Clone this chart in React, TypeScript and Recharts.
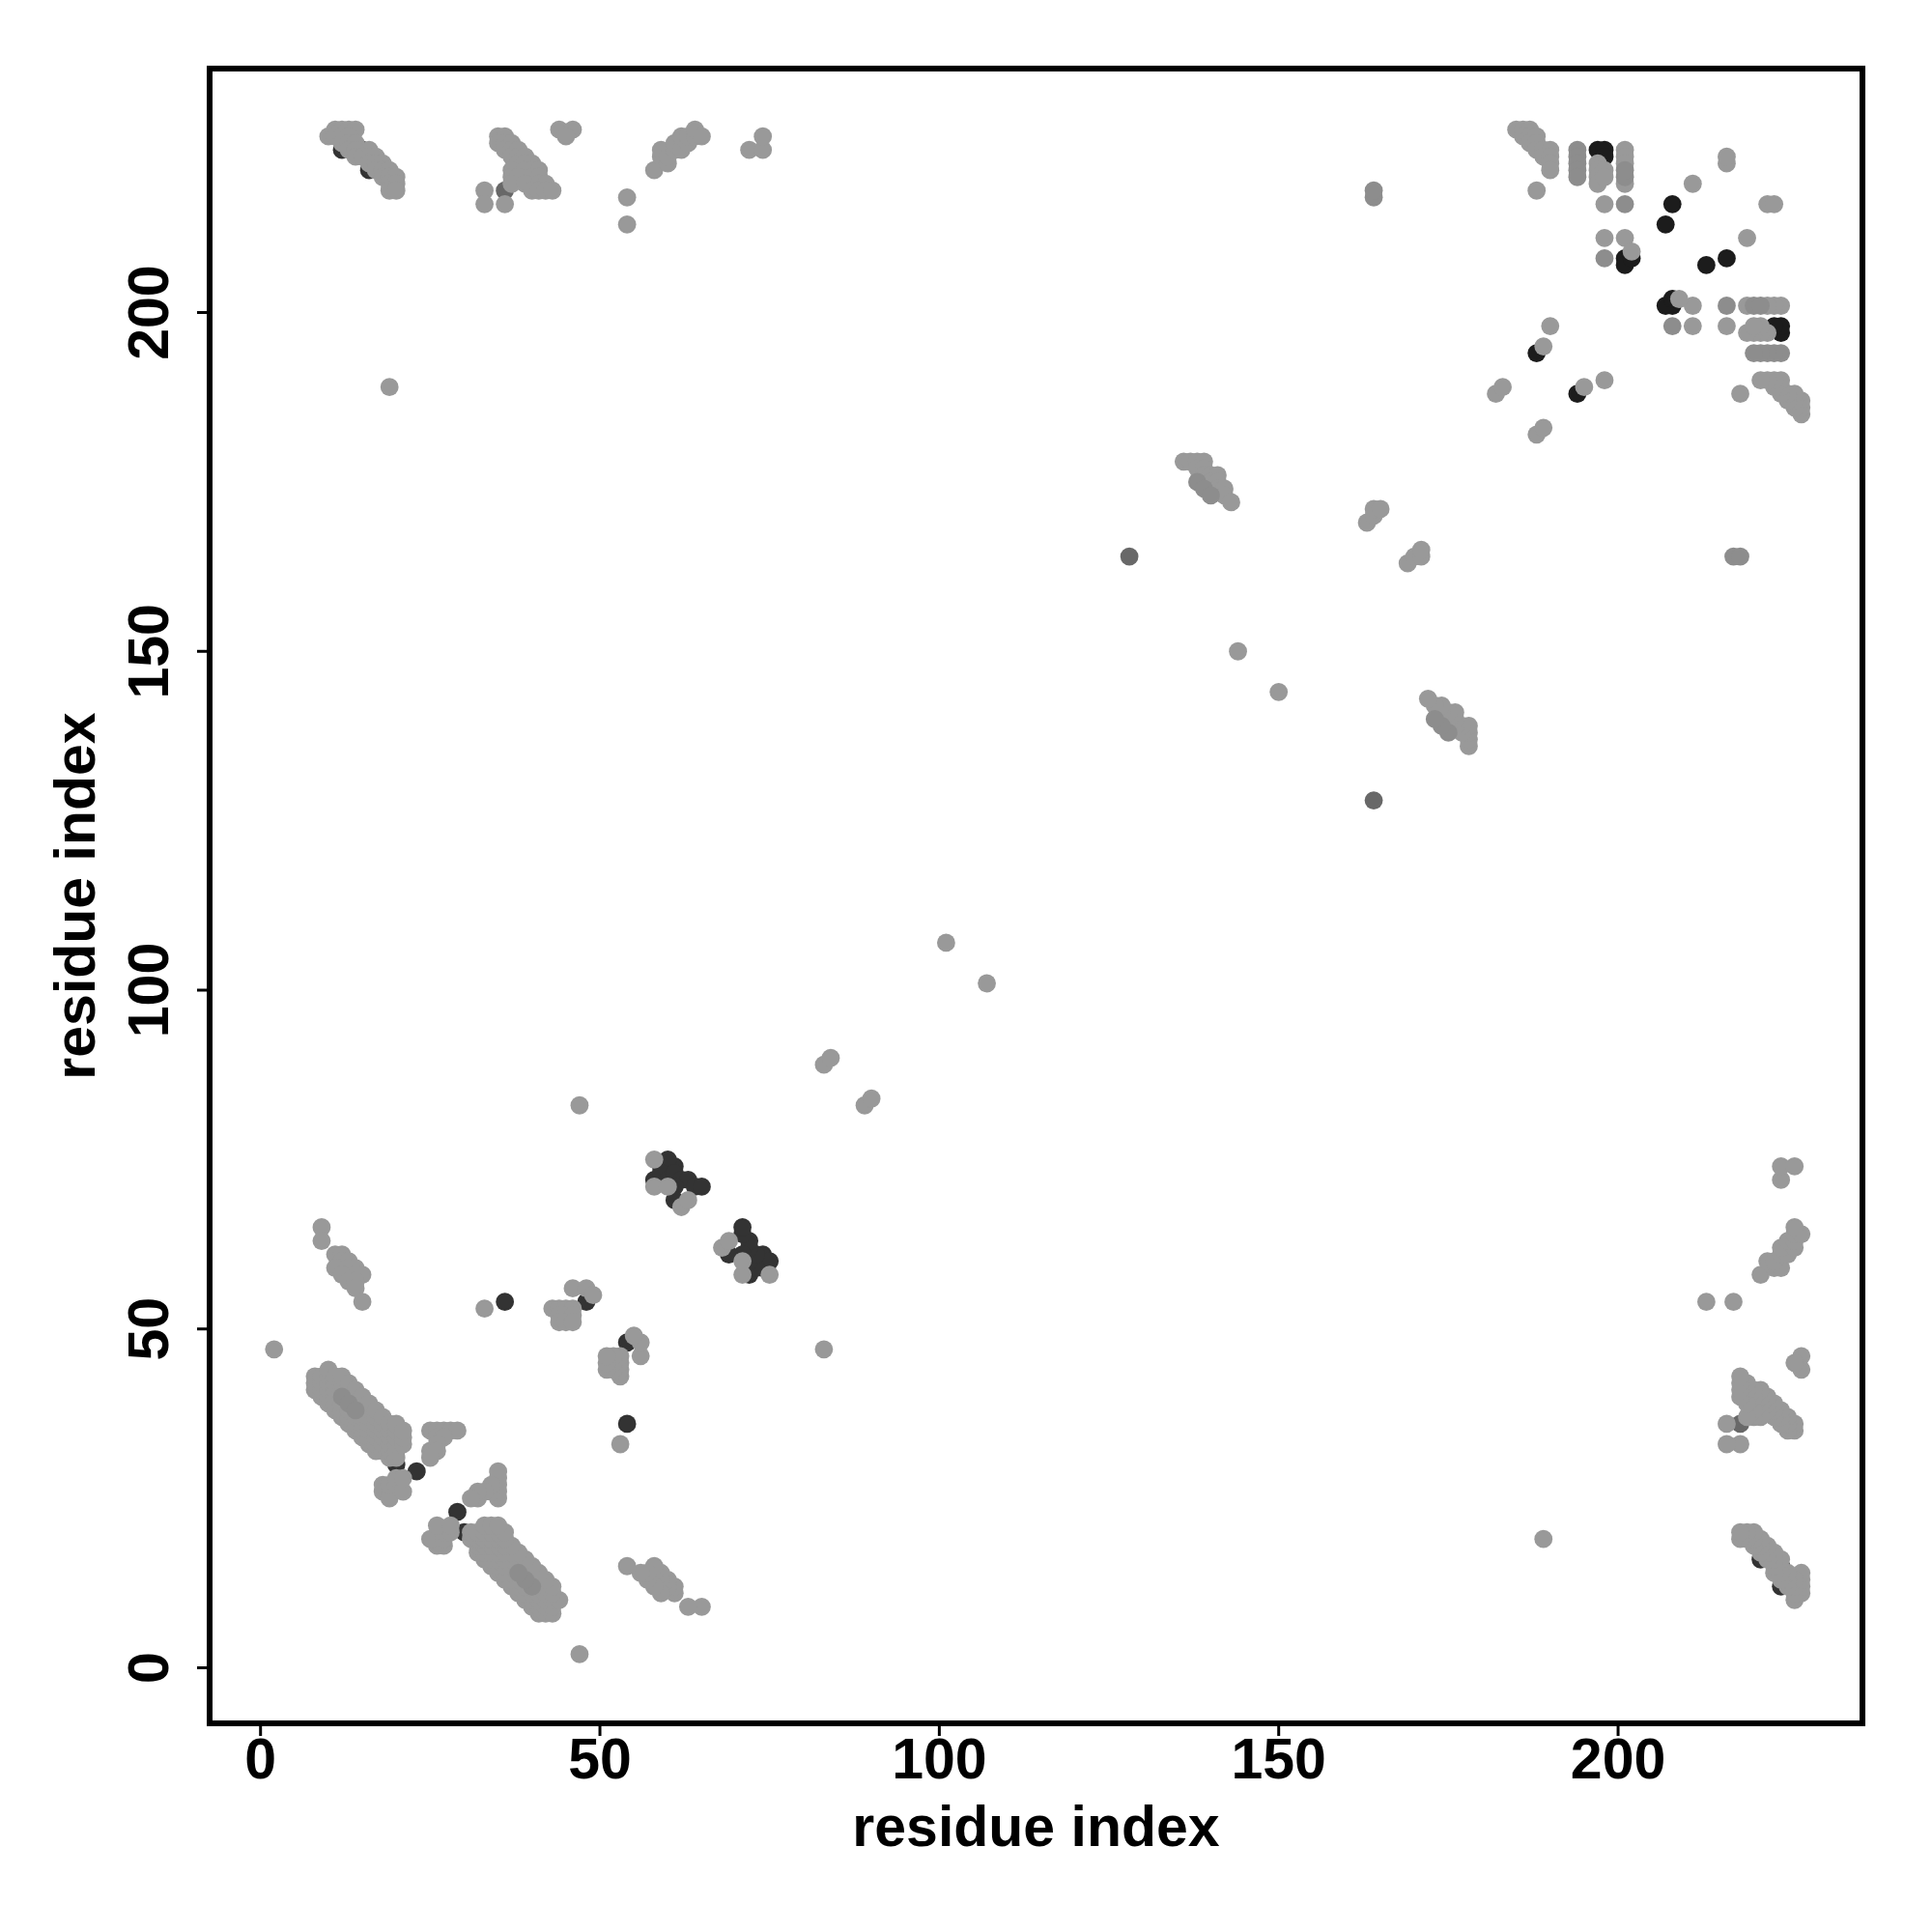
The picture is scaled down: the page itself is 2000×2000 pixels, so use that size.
import { ScatterChart, Scatter, XAxis, YAxis, ReferenceArea, Label } from 'recharts';

// contact map: only the upper triangle (i < j) is listed, the plot shows both (i, j) and (j, i)
type Pair = [number, number];

const xTicks = [0, 50, 100, 150, 200];
const yTicks = [0, 50, 100, 150, 200];

const blackPairs: Pair[] = [
  [197, 224], [198, 224], [198, 223], [208, 216], [207, 213], [201, 208], [201, 207], [202, 208],
  [188, 194], [61, 72],
];

const darkPairs: Pair[] = [
  [12, 224], [15, 224], [16, 221], [20, 30], [23, 29], [36, 54], [48, 54],
  [59, 74], [60, 74], [61, 74], [60, 75], [58, 72], [59, 73], [60, 72], [61, 73], [62, 72],
  [63, 72], [64, 71], [65, 71], [61, 71], [61, 69],
];

const dimPairs: Pair[] = [[128, 164], [36, 218]];

const lightPairs: Pair[] = [
  // 8-21 / 31-44 sheet
  [8, 41], [8, 42], [8, 43],
  [9, 40], [9, 41], [9, 42], [9, 43],
  [10, 39], [10, 40], [10, 41], [10, 42], [10, 43], [10, 44],
  [11, 38], [11, 39], [11, 40], [11, 41], [11, 42], [11, 43],
  [12, 37], [12, 38], [12, 39], [12, 41], [12, 42], [12, 43],
  [13, 36], [13, 37], [13, 38], [13, 40], [13, 41], [13, 42],
  [14, 35], [14, 36], [14, 37], [14, 39], [14, 40], [14, 41],
  [15, 34], [15, 35], [15, 36], [15, 37], [15, 38], [15, 39], [15, 40],
  [16, 33], [16, 34], [16, 35], [16, 36], [16, 37], [16, 38], [16, 39],
  [17, 32], [17, 33], [17, 34], [17, 35], [17, 36], [17, 37], [17, 38],
  [18, 32], [18, 33], [18, 34], [18, 35], [18, 36], [18, 37],
  [19, 31], [19, 32], [19, 33], [19, 34], [19, 35], [19, 36],
  [20, 31], [20, 32], [20, 33], [20, 34], [20, 35], [20, 36],
  [21, 33], [21, 34], [21, 35],
  [18, 26], [18, 27], [19, 25], [19, 27], [20, 27], [20, 28], [21, 26], [21, 28],
  [25, 35], [26, 35], [27, 35], [28, 35], [29, 35], [26, 34], [27, 34], [26, 33], [25, 32], [26, 32], [25, 31],
  [9, 65], [9, 63], [11, 61], [12, 61], [12, 60], [13, 60], [13, 59], [14, 59], [14, 58], [15, 58],
  [11, 59], [12, 58], [13, 57], [14, 57], [14, 56], [15, 54],
  [33, 53],
  [43, 53], [44, 53], [45, 53], [46, 53], [44, 52], [45, 52], [46, 52], [44, 51], [45, 51], [46, 51],
  [46, 56], [48, 56], [49, 55],
  [2, 47], [47, 83],
  [58, 75], [58, 71], [60, 71], [62, 68], [63, 69],
  [83, 89], [84, 90], [101, 107], [144, 150],
  [136, 178], [137, 178], [138, 178], [139, 178], [138, 177], [139, 177], [139, 176], [140, 176],
  [141, 176], [140, 175], [141, 175], [141, 174], [142, 174], [142, 173], [143, 172],
  [163, 169], [164, 170], [164, 171], [165, 171],
  // 185-227 block
  [185, 227], [186, 227], [187, 227], [186, 226], [187, 226], [188, 226], [187, 225], [188, 225],
  [188, 224], [189, 224], [190, 224], [189, 223], [190, 223], [190, 222], [190, 221], [188, 218],
  [197, 222], [197, 221], [197, 220], [197, 219], [198, 221], [198, 220],
  [201, 224], [201, 223], [201, 222], [201, 219],
  [211, 219], [216, 222], [216, 223], [198, 216], [198, 211], [201, 211], [202, 209],
  [190, 198], [189, 195], [182, 188], [183, 189],
  // 10-20 / 218-227
  [10, 226], [11, 227], [12, 227], [13, 227], [14, 227], [11, 226], [12, 226], [13, 226],
  [12, 225], [13, 225], [14, 225], [13, 224], [14, 224], [16, 224], [14, 223], [15, 223],
  [16, 223], [17, 223], [16, 222], [17, 222], [18, 222], [17, 221], [18, 221], [19, 221],
  [18, 220], [19, 220], [20, 220], [19, 219], [20, 219], [19, 218], [20, 218],
  // 33-46 / 216-227
  [33, 218], [33, 216], [36, 216], [35, 226], [36, 226], [35, 225], [36, 225], [37, 225],
  [36, 224], [37, 224], [38, 224], [37, 223], [38, 223], [39, 223], [38, 222], [39, 222],
  [40, 222], [37, 221], [39, 221], [40, 221], [41, 221], [37, 220], [38, 220], [40, 220],
  [41, 220], [37, 219], [39, 219], [41, 219], [42, 219], [40, 218], [41, 218], [42, 218],
  [43, 218], [44, 227], [46, 227], [45, 226],
  // 58-65 / 221-227
  [58, 221], [59, 223], [59, 224], [60, 222], [60, 223], [61, 224], [61, 225], [62, 224],
  [62, 226], [63, 225], [63, 226], [64, 226], [64, 227], [65, 226],
  [72, 224], [74, 224], [74, 226], [54, 213], [54, 217], [19, 189],
];

const midPairs: Pair[] = [
  [194, 224], [194, 223], [194, 222], [194, 221], [194, 220], [201, 216], [198, 208],
  [201, 220], [201, 221], [164, 217], [164, 218], [138, 175], [139, 174], [140, 173],
  [12, 40], [13, 39], [14, 38],
];

const FONT = '"Liberation Sans", Arial, Helvetica, sans-serif';
const R = 9.4;

const both = (pairs: Pair[]) =>
  pairs.flatMap(([i, j]) => [{ x: i, y: j }, { x: j, y: i }]);

const dot = (color: string) => (p: any) =>
  <circle cx={p.cx} cy={p.cy} r={R} fill={color} />;

const YTick = (p: any) => (
  <text
    x={p.x}
    y={p.y}
    transform={`rotate(-90 ${p.x} ${p.y})`}
    textAnchor="middle"
    fontSize={59}
    fontWeight="bold"
    fontFamily={FONT}
    fill="#000"
  >
    {p.payload.value}
  </text>
);

const series = [
  { name: 'black', pairs: blackPairs, color: '#1c1c1c' },
  { name: 'dark', pairs: darkPairs, color: '#333333' },
  { name: 'dim', pairs: dimPairs, color: '#686868' },
  { name: 'light', pairs: lightPairs, color: '#999999' },
  { name: 'mid', pairs: midPairs, color: '#8d8d8d' },
];

export default function App() {
  return (
    <div style={{ position: 'absolute', left: 0, top: 0, background: '#fff' }}>
      <ScatterChart width={2000} height={2000} margin={{ top: 71, right: 72, bottom: 0, left: 0 }}>
        <XAxis
          type="number"
          dataKey="x"
          domain={[-7.5, 236]}
          ticks={xTicks}
          allowDataOverflow
          height={216}
          axisLine={false}
          tickLine={{ stroke: '#000', strokeWidth: 3 }}
          tickSize={13}
          tickMargin={2}
          tick={{ fill: '#000', fontSize: 59, fontWeight: 'bold', fontFamily: FONT }}
          label={
            <Label
              content={(p: any) => (
                <text
                  x={p.viewBox.x + p.viewBox.width / 2}
                  y={p.viewBox.y + 127}
                  textAnchor="middle"
                  fontSize={59}
                  fontWeight="bold"
                  fontFamily={FONT}
                  fill="#000"
                >
                  residue index
                </text>
              )}
            />
          }
        />
        <YAxis
          type="number"
          dataKey="y"
          domain={[-8.2, 236]}
          ticks={yTicks}
          allowDataOverflow
          width={217}
          axisLine={false}
          tickLine={{ stroke: '#000', strokeWidth: 3 }}
          tickSize={13}
          tickMargin={30}
          tick={<YTick />}
          label={
            <Label
              content={(p: any) => {
                const cx = 98;
                const cy = p.viewBox.y + p.viewBox.height / 2;
                return (
                  <text
                    x={cx}
                    y={cy}
                    transform={`rotate(-90 ${cx} ${cy})`}
                    textAnchor="middle"
                    fontSize={59}
                    fontWeight="bold"
                    fontFamily={FONT}
                    fill="#000"
                  >
                    residue index
                  </text>
                );
              }}
            />
          }
        />
        <ReferenceArea
          x1={-7.5}
          x2={236}
          y1={-8.2}
          y2={236}
          fill="none"
          stroke="#000"
          strokeWidth={6}
          ifOverflow="visible"
        />
        {series.map(s => (
          <Scatter
            key={s.name}
            name={s.name}
            data={both(s.pairs)}
            fill={s.color}
            shape={dot(s.color)}
            isAnimationActive={false}
          />
        ))}
      </ScatterChart>
    </div>
  );
}
